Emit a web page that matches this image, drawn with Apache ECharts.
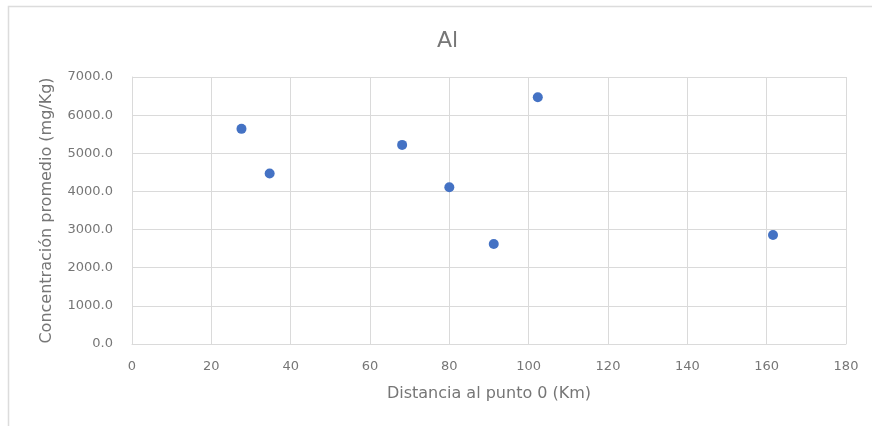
<!DOCTYPE html>
<html>
<head>
<meta charset="utf-8">
<script src="https://cdn.jsdelivr.net/npm/echarts@6/dist/echarts.min.js"></script>
<style>
  html, body { margin: 0; padding: 0; background: #fff; }
  #chart { width: 872px; height: 426px; }
</style>
</head>
<body>
<div id="chart"></div>
<script>
// Distance from point 0 (km) and mean Al concentration (mg/Kg)
const distanciaKm = [27.6, 34.7, 68.1, 80.0, 91.2, 102.3, 161.6];
const concentracion = [5640, 4470, 5220, 4110, 2620, 6470, 2860];

const titulo = 'Al';
const ejeX = 'Distancia al punto 0 (Km)';
const ejeY = 'Concentración promedio (mg/Kg)';

const puntos = distanciaKm.map((d, i) => [d, concentracion[i]]);

const gris = '#767676';
const rejilla = '#dadada';
const fuente = 'DejaVu Sans';

const chart = echarts.init(document.getElementById('chart'));
chart.setOption({
  backgroundColor: '#fff',
  animation: false,
  graphic: [{
    type: 'rect',
    shape: { x: 8.5, y: 6.5, width: 900, height: 440 },
    style: { fill: 'none', stroke: '#dcdcdc', lineWidth: 1.5 },
    silent: true
  }],
  title: {
    text: titulo,
    left: 432,
    top: 25,
    textStyle: { color: gris, fontSize: 22, fontWeight: 'normal', fontFamily: fuente }
  },
  grid: { left: 132, right: 26, top: 77, bottom: 82 },
  xAxis: {
    type: 'value',
    min: 0, max: 180, interval: 20,
    name: ejeX,
    nameLocation: 'middle',
    nameGap: 42,
    nameTextStyle: { color: gris, fontSize: 16, fontFamily: fuente },
    axisLine: { show: true, lineStyle: { color: rejilla } },
    axisTick: { show: false },
    axisLabel: { color: gris, fontSize: 13, fontFamily: fuente, margin: 16 },
    splitLine: { show: true, lineStyle: { color: rejilla, width: 1 } }
  },
  yAxis: {
    type: 'value',
    min: 0, max: 7000, interval: 1000,
    name: ejeY,
    nameLocation: 'middle',
    nameGap: 77,
    nameTextStyle: { color: gris, fontSize: 16, fontFamily: fuente },
    axisLine: { show: true, lineStyle: { color: rejilla } },
    axisTick: { show: false },
    axisLabel: {
      color: gris, fontSize: 13, fontFamily: fuente, margin: 19,
      formatter: v => v.toFixed(1)
    },
    splitLine: { show: true, lineStyle: { color: rejilla, width: 1 } }
  },
  series: [{
    type: 'scatter',
    data: puntos,
    symbol: 'circle',
    symbolSize: 10,
    itemStyle: { color: '#4472C4', opacity: 1 }
  }]
});
</script>
</body>
</html>
